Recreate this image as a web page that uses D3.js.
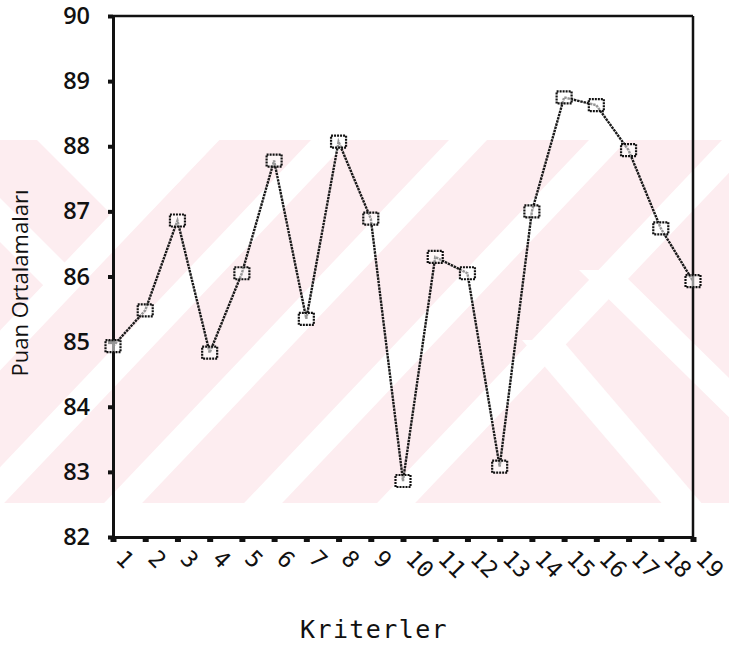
<!DOCTYPE html>
<html><head><meta charset="utf-8">
<script src="https://cdn.jsdelivr.net/npm/d3@7/dist/d3.min.js"></script>
<style>body{margin:0;background:#fff;overflow:hidden}</style>
</head><body>
<svg id="c" width="729" height="646"></svg>
<script>
// ---- data ----
const criteria = [1,2,3,4,5,6,7,8,9,10,11,12,13,14,15,16,17,18,19];
const scores   = [84.93,85.48,86.86,84.83,86.05,87.78,85.35,88.07,86.89,82.86,86.30,86.05,83.08,87.00,88.75,88.63,87.94,86.74,85.93];
const yTicks   = [82,83,84,85,86,87,88,89,90];
const yTitle   = "Puan Ortalamaları";
const xTitle   = "Kriterler";

const svg = d3.select("#c");
const W = 729, H = 646;
const m = {left:113, right:693, top:16, bottom:537};

// ---- background watermark (pale pink band with white diagonal bands) ----
const wm = svg.append("g");
wm.append("clipPath").attr("id","band").append("rect").attr("x",0).attr("y",140).attr("width",W).attr("height",363);
const wmg = wm.append("g").attr("clip-path","url(#band)");
wmg.append("rect").attr("x",0).attr("y",140).attr("width",W).attr("height",363).attr("fill","#fdedf0");
const k = 0.95, hw = 19;
function slash(c){ // "/" band centred at x=c for y=420
  const a = 420-100, b = 420-560;
  return [[c-hw+a*k,100],[c+hw+a*k,100],[c+hw+b*k,560],[c-hw+b*k,560]];
}
const shapes = [
  slash(-66), slash(64), slash(202), slash(342), slash(475),
  [[27,130],[229,130],[130,233]],                       // V notch
  [[-10,188],[74,272],[53,295],[-10,232]],              // left "\" band
  [[579,270],[619,270],[833,480],[793,480]],            // lower arm of "<"
  [[522,340],[562,340],[716,520],[676,520]]             // right "\" band
];
wmg.selectAll("polygon.w").data(shapes).join("polygon")
  .attr("points", d=>d.map(p=>p.join(",")).join(" "))
  .attr("fill","#fff");

// ---- scales ----
const x = d3.scaleLinear().domain([1,19]).range([m.left,m.right]);
const y = d3.scaleLinear().domain([82,90]).range([m.bottom,m.top]);

// ---- frame (top/right) ----
svg.append("line").attr("x1",m.left).attr("x2",m.right).attr("y1",m.top).attr("y2",m.top)
  .attr("stroke","#111").attr("stroke-width",2.5);
svg.append("line").attr("x1",m.right).attr("x2",m.right).attr("y1",m.top).attr("y2",m.bottom)
  .attr("stroke","#111").attr("stroke-width",2.5);

// ---- axes ----
const ya = svg.append("g").attr("transform",`translate(${m.left},0)`)
  .call(d3.axisLeft(y).tickValues(yTicks).tickSize(5).tickSizeOuter(0).tickPadding(18).tickFormat(d3.format("d")));
ya.select(".domain").attr("stroke","#111").attr("stroke-width",3);
ya.selectAll(".tick line").attr("stroke","#111").attr("stroke-width",4);
ya.selectAll(".tick text").attr("font-family","'Open Sans', sans-serif").attr("font-weight",600)
  .attr("font-size",23.5).attr("fill","#111");

const xa = svg.append("g").attr("transform",`translate(0,${m.bottom})`)
  .call(d3.axisBottom(x).tickValues(criteria).tickSize(5).tickSizeOuter(0).tickFormat(d3.format("d")));
xa.select(".domain").attr("stroke","#111").attr("stroke-width",3);
xa.selectAll(".tick line").attr("stroke","#111").attr("stroke-width",6);
xa.selectAll(".tick text")
  .attr("x",0).attr("y",0).attr("dy",0)
  .attr("transform","translate(1,23) rotate(45)")
  .attr("text-anchor","start")
  .attr("font-family","'DejaVu Sans Mono', monospace").attr("font-size",23).attr("fill","#111");

// ---- series ----
const pts = criteria.map((c,i)=>({c, v:scores[i]}));
svg.append("path").datum(pts)
  .attr("d", d3.line().x(d=>x(d.c)).y(d=>y(d.v)))
  .attr("fill","none").attr("stroke","#1a1a1a").attr("stroke-width",2.4)
  .attr("stroke-dasharray","2.5,0.8");
svg.selectAll("rect.mk").data(pts).join("rect").attr("class","mk")
  .attr("x",d=>x(d.c)-7.5).attr("y",d=>y(d.v)-6).attr("width",15).attr("height",12)
  .attr("fill","#fff").attr("fill-opacity",0.55)
  .attr("stroke","#111").attr("stroke-width",2.2).attr("stroke-dasharray","2,1");

// ---- titles ----
svg.append("text").attr("transform",`translate(28,283) rotate(-90)`)
  .attr("text-anchor","middle").attr("font-family","'Open Sans', sans-serif")
  .attr("font-size",22).attr("fill","#111").text(yTitle);
svg.append("text").attr("x",300).attr("y",638)
  .attr("font-family","'DejaVu Sans Mono', monospace").attr("font-size",25)
  .attr("letter-spacing","1.4px").attr("fill","#111").text(xTitle);
</script>
</body></html>
